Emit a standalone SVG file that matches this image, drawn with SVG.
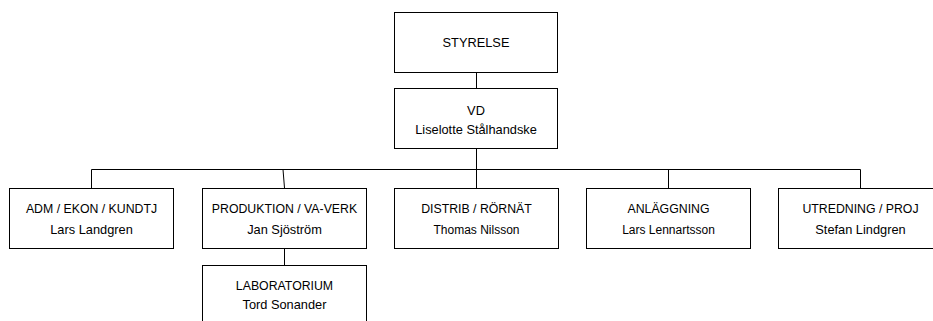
<svg xmlns="http://www.w3.org/2000/svg" width="933" height="321" viewBox="0 0 933 321">
<style>
.box{fill:#fff;stroke:#000;stroke-width:1}
.ln{stroke:#000;stroke-width:1;fill:none}
text{font-family:"Liberation Sans",Arial,sans-serif;font-size:12.3px;fill:#000;text-anchor:middle}
.nm{font-size:12.8px}
</style>
<rect width="933" height="321" fill="#fff"/>
<g id="connectors">
<line class="ln" x1="476.5" y1="72" x2="476.5" y2="88"/>
<line class="ln" x1="476.5" y1="148" x2="476.5" y2="169.5"/>
<line class="ln" x1="91.5" y1="169.5" x2="860.5" y2="169.5"/>
<line class="ln" x1="91.5" y1="169.5" x2="91.5" y2="188"/>
<line class="ln" x1="283" y1="169.5" x2="284.5" y2="188"/>
<line class="ln" x1="476.5" y1="169.5" x2="476.5" y2="188"/>
<line class="ln" x1="668.5" y1="169.5" x2="668.5" y2="188"/>
<line class="ln" x1="860.5" y1="169.5" x2="860.5" y2="188"/>
<line class="ln" x1="284.5" y1="249" x2="284.5" y2="265"/>
</g>
<g id="styrelse">
<rect class="box" x="394.5" y="12.5" width="163" height="60"/>
<text x="476" y="47" style="font-size:12.8px">STYRELSE</text>
</g>
<g id="vd">
<rect class="box" x="394.5" y="88.5" width="163" height="60"/>
<text x="476" y="115" class="nm">VD</text>
<text x="476" y="134" class="nm">Liselotte Stålhandske</text>
</g>
<g id="adm">
<rect class="box" x="9.5" y="188.5" width="164" height="60"/>
<text x="91.5" y="213">ADM / EKON / KUNDTJ</text>
<text x="91.5" y="234" class="nm">Lars Landgren</text>
</g>
<g id="produktion">
<rect class="box" x="202.5" y="188.5" width="164" height="60"/>
<text x="284.5" y="213">PRODUKTION / VA-VERK</text>
<text x="284.5" y="234" class="nm">Jan Sjöström</text>
</g>
<g id="distrib">
<rect class="box" x="394.5" y="188.5" width="164" height="60"/>
<text x="476.5" y="213">DISTRIB / RÖRNÄT</text>
<text x="476.5" y="234" style="font-size:12px">Thomas Nilsson</text>
</g>
<g id="anlaggning">
<rect class="box" x="586.5" y="188.5" width="164" height="60"/>
<text x="668.5" y="213">ANLÄGGNING</text>
<text x="668.5" y="234" style="font-size:12px">Lars Lennartsson</text>
</g>
<g id="utredning">
<rect class="box" x="778.5" y="188.5" width="164" height="60"/>
<text x="860.5" y="213">UTREDNING / PROJ</text>
<text x="860.5" y="234" class="nm">Stefan Lindgren</text>
</g>
<g id="laboratorium">
<rect class="box" x="202.5" y="265.5" width="164" height="60"/>
<text x="284.5" y="290">LABORATORIUM</text>
<text x="284.5" y="309" class="nm">Tord Sonander</text>
</g>
</svg>
